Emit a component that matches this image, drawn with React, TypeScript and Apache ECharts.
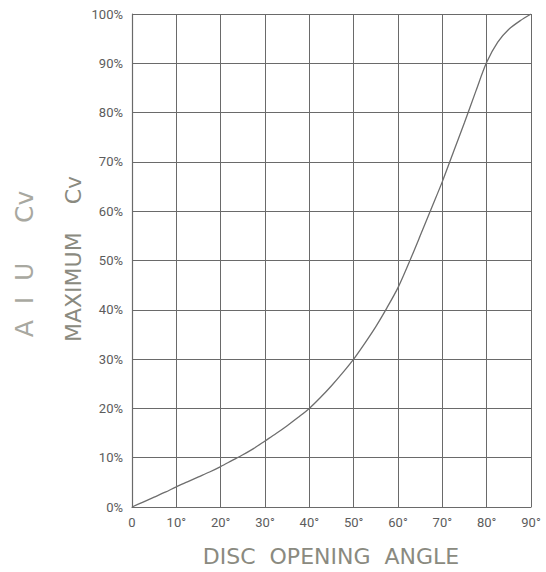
import React, { useEffect, useRef } from "react";
import * as echarts from "echarts";

const angles = [0, 2.5, 5, 7.5, 10, 12.5, 15, 17.5, 20, 22.5, 25, 27.5, 30, 32.5, 35, 37.5, 40, 42.5, 45, 47.5, 50, 52.5, 55, 57.5, 60, 62.5, 65, 67.5, 70, 72.5, 75, 77.5, 80, 82.5, 85, 87.5, 90];
const cvPercent = [0, 1, 2, 3, 4.1, 5.1, 6.1, 7.1, 8.2, 9.4, 10.6, 11.9, 13.4, 14.9, 16.5, 18.2, 20, 22.2, 24.6, 27.2, 30, 33.2, 36.6, 40.4, 44.5, 49.6, 55, 60.5, 66, 72, 78, 84.2, 90.2, 94.3, 96.9, 98.6, 100];
const xTickLabels = ["0", "10°", "20°", "30°", "40°", "50°", "60°", "70°", "80°", "90°"];
const yTickLabels = ["0%", "10%", "20%", "30%", "40%", "50%", "60%", "70%", "80%", "90%", "100%"];

export default function App() {
  const ref = useRef<HTMLDivElement>(null);
  useEffect(() => {
    document.body.style.margin = "0";
    const chart = echarts.init(ref.current!, null, { renderer: "svg" });
    const gridColor = "#6a6a6a";
    const labelFont = { color: "#5c5c5c", fontFamily: "Roboto", fontSize: 13 };
    chart.setOption({
      animation: false,
      backgroundColor: "#ffffff",
      grid: { left: 132, right: 15, top: 14, bottom: 65 },
      xAxis: {
        type: "value",
        min: 0,
        max: 90,
        interval: 10,
        axisLine: { show: true, lineStyle: { color: gridColor, width: 1.2 } },
        axisTick: { show: false },
        splitLine: { show: true, lineStyle: { color: gridColor, width: 1 } },
        axisLabel: {
          ...labelFont,
          margin: 9,
          formatter: (v: number) => xTickLabels[Math.round(v / 10)] ?? "",
        },
      },
      yAxis: {
        type: "value",
        min: 0,
        max: 100,
        interval: 10,
        axisLine: { show: true, lineStyle: { color: gridColor, width: 1.2 } },
        axisTick: { show: false },
        splitLine: { show: true, lineStyle: { color: gridColor, width: 1 } },
        axisLabel: {
          ...labelFont,
          margin: 9,
          formatter: (v: number) => yTickLabels[Math.round(v / 10)] ?? "",
        },
      },
      series: [
        {
          type: "line",
          data: angles.map((a, i) => [a, cvPercent[i]]),
          smooth: 0.3,
          showSymbol: false,
          lineStyle: { color: "#6e6e6e", width: 1.3 },
        },
      ],
      graphic: [
        {
          type: "text",
          x: 331,
          y: 556,
          style: {
            text: "DISC  OPENING  ANGLE",
            fill: "#8a8a80",
            fontFamily: "DejaVu Sans",
            fontSize: 22,
            textAlign: "center",
            textVerticalAlign: "middle",
          },
        },
        {
          type: "text",
          x: 73,
          y: 259,
          rotation: Math.PI / 2,
          style: {
            text: "MAXIMUM    Cv",
            fill: "#8a8a80",
            fontFamily: "DejaVu Sans",
            fontSize: 22,
            textAlign: "center",
            textVerticalAlign: "middle",
          },
        },
        {
          type: "text",
          x: 24,
          y: 264,
          rotation: Math.PI / 2,
          style: {
            text: "A  I  U     Cv",
            fill: "#a8a8a0",
            fontFamily: "DejaVu Sans",
            fontSize: 25,
            textAlign: "center",
            textVerticalAlign: "middle",
          },
        },
      ],
    });
    return () => chart.dispose();
  }, []);
  return <div ref={ref} style={{ width: 546, height: 572, position: "absolute", left: 0, top: 0 }} />;
}
